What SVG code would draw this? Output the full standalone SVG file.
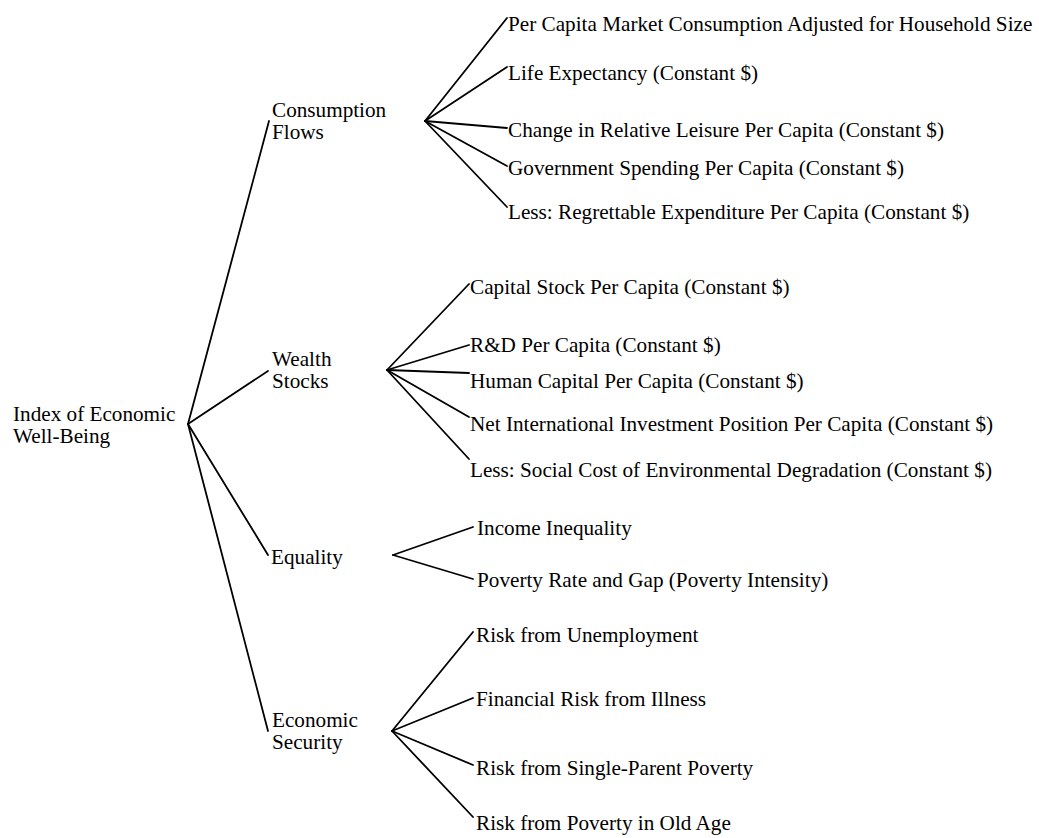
<svg xmlns="http://www.w3.org/2000/svg" width="1039" height="838" viewBox="0 0 1039 838">
<style>
text{font-family:"Liberation Serif","Times New Roman",serif;font-size:21.2px;fill:#000}
.c line{stroke:#000;stroke-width:1.8;stroke-linecap:round}
</style>
<rect width="1039" height="838" fill="#fff"/>
<g class="c" id="connectors">
<line x1="188" y1="424" x2="269" y2="121"/>
<line x1="188" y1="424" x2="268" y2="371"/>
<line x1="188" y1="424" x2="268" y2="555"/>
<line x1="188" y1="424" x2="268" y2="731"/>
<line x1="425" y1="121" x2="507" y2="18"/>
<line x1="425" y1="121" x2="507" y2="67"/>
<line x1="425" y1="121" x2="507" y2="128"/>
<line x1="425" y1="121" x2="507" y2="166"/>
<line x1="425" y1="121" x2="507" y2="207"/>
<line x1="387" y1="370" x2="469" y2="284"/>
<line x1="387" y1="370" x2="469" y2="345"/>
<line x1="387" y1="370" x2="469" y2="373"/>
<line x1="387" y1="370" x2="469" y2="417"/>
<line x1="387" y1="370" x2="469" y2="459"/>
<line x1="393" y1="555" x2="473" y2="527"/>
<line x1="393" y1="555" x2="473" y2="579"/>
<line x1="392" y1="731" x2="473" y2="632"/>
<line x1="392" y1="731" x2="473" y2="698"/>
<line x1="392" y1="731" x2="473" y2="765"/>
<line x1="392" y1="731" x2="473" y2="817"/>
</g>
<g id="root"><text x="13" y="421">Index of Economic<tspan x="13" y="443">Well-Being</tspan></text></g>
<g id="consumption"><text x="272" y="116.5">Consumption<tspan x="272" y="138.5">Flows</tspan></text></g>
<g id="wealth"><text x="272" y="365.5">Wealth<tspan x="272" y="387.5">Stocks</tspan></text></g>
<g id="equality"><text x="271" y="564">Equality</text></g>
<g id="security"><text x="272" y="726.5">Economic<tspan x="272" y="748.5">Security</tspan></text></g>
<g id="c1"><text x="508" y="31">Per Capita Market Consumption Adjusted for Household Size</text></g>
<g id="c2"><text x="508" y="80">Life Expectancy (Constant $)</text></g>
<g id="c3"><text x="508" y="137">Change in Relative Leisure Per Capita (Constant $)</text></g>
<g id="c4"><text x="508" y="175">Government Spending Per Capita (Constant $)</text></g>
<g id="c5"><text x="508" y="219">Less: Regrettable Expenditure Per Capita (Constant $)</text></g>
<g id="w1"><text x="470" y="294">Capital Stock Per Capita (Constant $)</text></g>
<g id="w2"><text x="470" y="352">R&amp;D Per Capita (Constant $)</text></g>
<g id="w3"><text x="470" y="388">Human Capital Per Capita (Constant $)</text></g>
<g id="w4"><text x="470" y="431">Net International Investment Position Per Capita (Constant $)</text></g>
<g id="w5"><text x="470" y="477">Less: Social Cost of Environmental Degradation (Constant $)</text></g>
<g id="e1"><text x="477" y="535">Income Inequality</text></g>
<g id="e2"><text x="477" y="587">Poverty Rate and Gap (Poverty Intensity)</text></g>
<g id="s1"><text x="476" y="642">Risk from Unemployment</text></g>
<g id="s2"><text x="476" y="706">Financial Risk from Illness</text></g>
<g id="s3"><text x="476" y="775">Risk from Single-Parent Poverty</text></g>
<g id="s4"><text x="476" y="830">Risk from Poverty in Old Age</text></g>
</svg>
